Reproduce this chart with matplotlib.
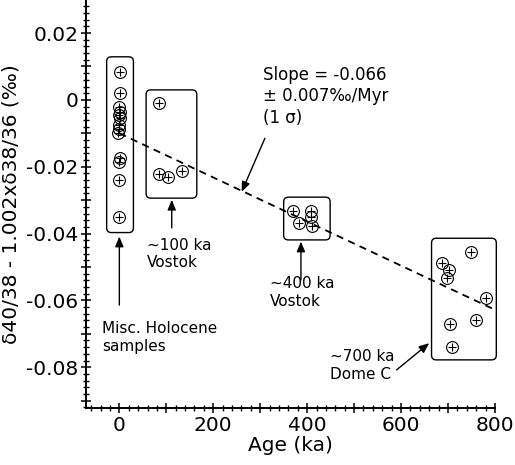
import matplotlib
matplotlib.use("Agg")
import matplotlib.pyplot as plt
from matplotlib.patches import FancyBboxPatch
from matplotlib.ticker import MultipleLocator, FuncFormatter

# dati: eta' (ka) e delta (per mille)
holo_age = [2, 1, 0, 1, 0, 1, 0, -1, -3, 1, 0, 0, 0]
holo_val = [0.0085, 0.0020, -0.0020, -0.0035, -0.0045, -0.0055, -0.0075,
            -0.0088, -0.0100, -0.0174, -0.0185, -0.0240, -0.0349]
v100_age = [85, 84, 104, 134]
v100_val = [-0.0010, -0.0222, -0.0230, -0.0212]
v400_age = [369, 408, 408, 382, 410]
v400_val = [-0.0332, -0.0332, -0.0350, -0.0368, -0.0377]
dome_age = [750, 688, 703, 698, 780, 760, 705, 709]
dome_val = [-0.0454, -0.0489, -0.0509, -0.0532, -0.0594, -0.0659, -0.0671, -0.0739]

# retta di regressione
slope = -0.066e-3   # per mille / ka
intercept = -0.010
fit_x = [0, 800]

ages = holo_age + v100_age + v400_age + dome_age
vals = holo_val + v100_val + v400_val + dome_val

fig = plt.figure(figsize=(5.15, 4.65), dpi=100)
ax = fig.add_axes([0.167, 0.1226, 0.794, 0.8774])

ax.plot(ages, vals, 'o', ms=8.5, mfc='none', mec='black', mew=0.8)
ax.plot(ages, vals, '+', ms=6, color='black', mew=0.8)
ax.plot(fit_x, [intercept + slope * x for x in fit_x], '--', color='black',
        lw=1.3, dashes=(4, 3))

# riquadri arrotondati (x0, x1, y0, y1)
boxes = [(-27, 30, -0.0397, 0.0129),
         (57, 165, -0.0294, 0.0030),
         (350, 449, -0.0419, -0.0291),
         (665, 803, -0.0778, -0.0414)]
aspect = 3340 / 0.4697
for x0, x1, y0, y1 in boxes:
    p = FancyBboxPatch((x0, y0), x1 - x0, y1 - y0,
                       boxstyle="round,pad=0,rounding_size=10",
                       mutation_aspect=1 / aspect,
                       fc='none', ec='black', lw=1.0, clip_on=False)
    ax.add_patch(p)

arrow = dict(arrowstyle='-|>,head_length=0.6,head_width=0.25', color='black',
             lw=1.0, shrinkA=0, shrinkB=0)
ax.annotate('', xy=(0, -0.0409), xytext=(0, -0.0614), arrowprops=arrow)
ax.annotate('', xy=(111.6, -0.0299), xytext=(111.6, -0.0383), arrowprops=arrow)
ax.annotate('', xy=(386.8, -0.0424), xytext=(386.8, -0.0539), arrowprops=arrow)
ax.annotate('', xy=(260.6, -0.0275), xytext=(310, -0.0115), arrowprops=arrow)
ax.annotate('', xy=(660, -0.0728), xytext=(590.6, -0.0808), arrowprops=arrow)

ax.text(-37.5, -0.0711, 'Misc. Holocene\nsamples', fontsize=11, va='center',
        linespacing=1.2)
ax.text(59, -0.0462, '~100 ka\nVostok', fontsize=11, va='center', linespacing=1.2)
ax.text(321, -0.0576, '~400 ka\nVostok', fontsize=11, va='center', linespacing=1.2)
ax.text(448, -0.0795, '~700 ka\nDome C', fontsize=11, va='center', linespacing=1.2)
ax.text(306, 0.0011, 'Slope = -0.066\n\u00b1 0.007\u2030/Myr\n(1 \u03c3)', fontsize=12,
        va='center', linespacing=1.25)

ax.set_xlim(-71, 800)
ax.set_ylim(-0.0922, 0.0299)
ax.spines['top'].set_visible(False)
ax.spines['right'].set_visible(False)
for s in ('left', 'bottom'):
    ax.spines[s].set_linewidth(1.4)

ax.xaxis.set_major_locator(MultipleLocator(100))
ax.xaxis.set_minor_locator(MultipleLocator(20))
ax.xaxis.set_major_formatter(FuncFormatter(
    lambda v, p: '%d' % round(v) if round(v) % 200 == 0 else ''))
ax.yaxis.set_major_locator(MultipleLocator(0.01))
ax.yaxis.set_minor_locator(MultipleLocator(0.002))
ax.yaxis.set_major_formatter(FuncFormatter(
    lambda v, p: ('%g' % round(v, 3)) if round(v / 0.01) % 2 == 0 else ''))
ax.tick_params(which='major', direction='inout', length=7, width=1.1,
               labelsize=14.5, pad=2)
ax.tick_params(which='minor', direction='inout', length=4, width=1.0)

ax.set_xlabel('Age (ka)', fontsize=14.5, labelpad=1)
ax.set_ylabel('\u03b440/38 - 1.002x\u03b438/36 (\u2030)', fontsize=14.5, labelpad=4)

fig.savefig('out.png', dpi=100)
